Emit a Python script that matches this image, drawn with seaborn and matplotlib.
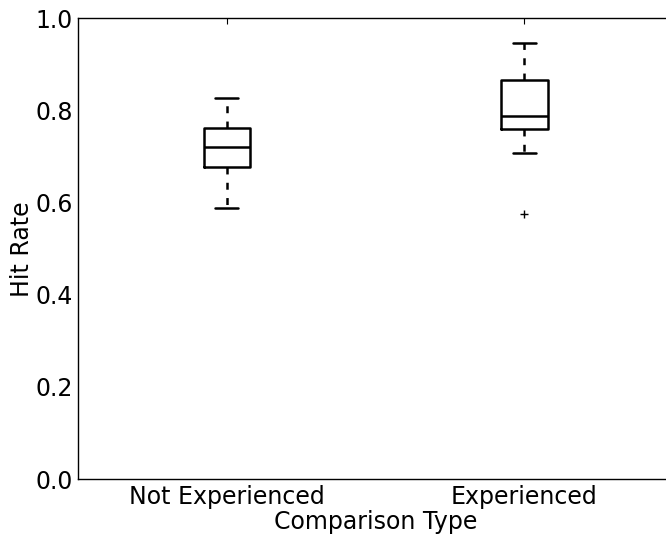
import matplotlib
matplotlib.use("Agg")
import matplotlib.pyplot as plt
import seaborn as sns
import pandas as pd

categories = ["Not Experienced", "Experienced"]
not_experienced = [0.588, 0.677, 0.720, 0.761, 0.827]
experienced = [0.575, 0.707, 0.759, 0.770, 0.787, 0.820, 0.8655, 0.900, 0.946]
y_ticks = [0.0, 0.2, 0.4, 0.6, 0.8, 1.0]

df = pd.DataFrame({
    "Comparison Type": [categories[0]] * len(not_experienced) + [categories[1]] * len(experienced),
    "Hit Rate": not_experienced + experienced,
})

sns.set_style("white")
plt.rcParams["font.family"] = ["DejaVu Sans"]
plt.rcParams["lines.scale_dashes"] = False
plt.rcParams["text.color"] = "black"
plt.rcParams["axes.labelcolor"] = "black"

fig = plt.figure(figsize=(6.66, 5.36), dpi=100)
ax = fig.add_axes([0.117, 0.106, 0.894, 0.86])

sns.boxplot(data=df, x="Comparison Type", y="Hit Rate", order=categories,
            fill=False, color="black", linecolor="black", linewidth=1.8,
            width=0.155, ax=ax,
            whiskerprops={"linestyle": (0, (5, 6)), "color": "black"},
            capprops={"color": "black"},
            medianprops={"color": "black"},
            flierprops={"marker": "+", "markeredgecolor": "black",
                        "markersize": 6, "markeredgewidth": 1.0})

ax.set_xlim(-0.5, 1.5)
ax.set_ylim(0, 1.0)
ax.set_yticks(y_ticks)
ax.set_yticklabels([f"{t:.1f}" for t in y_ticks])
for s in ax.spines.values():
    s.set_visible(True)
    s.set_color("black")
    s.set_linewidth(1.0)
ax.tick_params(direction="in", length=4, width=0.8, top=True, right=True,
               labelsize=17, colors="black")
ax.tick_params(axis="y", pad=3.5)
ax.tick_params(axis="x", pad=4)
ax.set_xlabel("Comparison Type", fontsize=17, labelpad=1, color="black")
ax.set_ylabel("Hit Rate", fontsize=17, labelpad=1, color="black")

fig.savefig("out.png", dpi=100)
